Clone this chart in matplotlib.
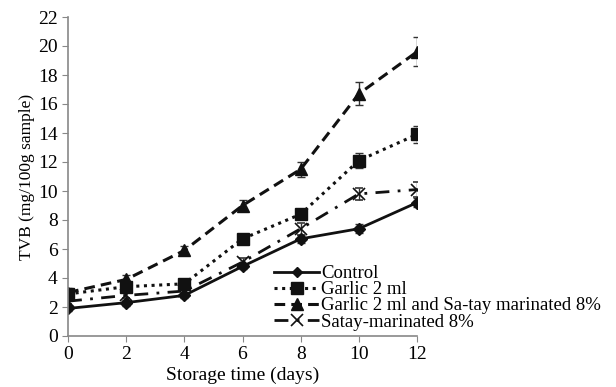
import matplotlib
matplotlib.use("Agg")
import matplotlib.pyplot as plt

days = [0, 2, 4, 6, 8, 10, 12]
control = [1.9, 2.3, 2.8, 4.8, 6.7, 7.4, 9.2]
garlic = [2.9, 3.4, 3.6, 6.7, 8.4, 12.1, 13.9]
garlic_satay = [3.0, 3.9, 5.9, 9.0, 11.5, 16.7, 19.6]
satay = [2.4, 2.8, 3.1, 5.1, 7.4, 9.8, 10.1]

err_control = [0.2, 0.2, 0.2, 0.2, 0.3, 0.3, 0.3]
err_garlic = [0.3, 0.3, 0.3, 0.3, 0.3, 0.5, 0.6]
err_garlic_satay = [0.3, 0.3, 0.3, 0.4, 0.5, 0.8, 1.0]
err_satay = [0.2, 0.2, 0.2, 0.3, 0.4, 0.4, 0.5]

labels = ["Control", "Garlic 2 ml", "Garlic 2 ml and Sa-tay marinated 8%", "Satay-marinated 8%"]

plt.rcParams['font.family'] = ['Liberation Serif', 'DejaVu Serif']

fig = plt.figure(figsize=(6.16, 3.87), dpi=100)
ax = fig.add_axes([68/616, 1-336/387, (417-68)/616, (336-17)/387])

col = '#111111'
ekw = dict(capsize=3, elinewidth=1.0, ecolor='#333333', capthick=1.0)
ax.errorbar(days, control, yerr=err_control, color=col, lw=2.0, ls='-', marker='D', ms=6, label=labels[0], **ekw)
ax.errorbar(days, garlic, yerr=err_garlic, color=col, lw=2.2, ls=(0, (1, 1.5)), marker='s', ms=9, label=labels[1], **ekw)
ax.errorbar(days, garlic_satay, yerr=err_garlic_satay, color=col, lw=2.2, ls=(0, (3.5, 2)), marker='^', ms=9, label=labels[2], **ekw)
ax.errorbar(days, satay, yerr=err_satay, color=col, lw=2.0, ls=(0, (5, 3, 1, 3)), marker='x', ms=9, mew=1.2, label=labels[3], **ekw)

ax.set_xlim(0, 12)
ax.set_ylim(0, 22)
ax.set_xticks(days)
ax.set_yticks(range(0, 23, 2))
ax.tick_params(labelsize=14, length=4, color='#888888', direction='out')
for s in ['top', 'right']:
    ax.spines[s].set_visible(False)
for s in ['left', 'bottom']:
    ax.spines[s].set_color('#888888')
    ax.spines[s].set_linewidth(1.2)
ax.set_xlabel("Storage time (days)", fontsize=14, labelpad=2)
ax.set_ylabel("TVB (mg/100g sample)", fontsize=12.5, labelpad=2)

handles, labs = ax.get_legend_handles_labels()
handles = [h[0] for h in handles]
leg = ax.legend(handles, labs, loc='upper left', bbox_to_anchor=(274/616, 1-265/387),
                bbox_transform=fig.transFigure, frameon=False, fontsize=13.5,
                labelspacing=-0.05, handlelength=2.4, handletextpad=0.1,
                borderpad=0, borderaxespad=0, markerscale=0.9)

fig.savefig("out.png", dpi=100)
